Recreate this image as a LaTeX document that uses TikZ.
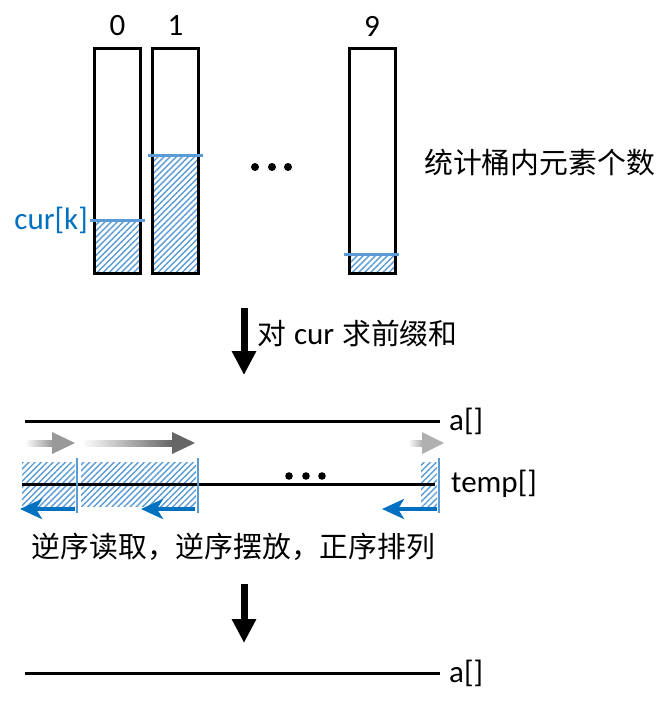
\documentclass[tikz,border=0pt]{standalone}
\usepackage{fontspec}
\setmainfont{Carlito}
\newfontfamily\cjk{Noto Sans CJK SC}[Scale=0.93]
\usetikzlibrary{arrows.meta,patterns.meta}
\definecolor{lblue}{RGB}{91,155,213}
\definecolor{dblue}{RGB}{0,112,192}
\begin{document}
\begin{tikzpicture}[x=1pt,y=-1pt,font=\fontsize{31}{35}\selectfont]
\tikzstyle{every node}=[inner sep=0pt]
\tikzstyle{hatch}=[pattern={Lines[angle=45,distance=4.3pt,line width=1.4pt]},pattern color=lblue]
\tikzstyle{bucket}=[draw,line width=3pt,minimum width=46pt,minimum height=225pt]
\tikzstyle{axis}=[line width=3pt]
\tikzstyle{big arrow}=[line width=7pt,-{Triangle[length=24pt,width=23pt]}]
\tikzstyle{back arrow}=[dblue,line width=4.5pt,-{Stealth[length=22pt,width=20pt,inset=6pt]}]
\useasboundingbox (0,0) rectangle (669,704);
% buckets 0, 1, 9
\foreach \n/\cx/\h in {0/117.5/220, 1/175.5/155, 9/372/254}{
\path (\cx,26) node (n\n) {\n};
\fill[hatch] (\cx-22,\h) rectangle (\cx+22,272);
\path (\cx,161) node [bucket] (b\n) {};
\draw [lblue,line width=3pt] (\cx-28,\h) -- (\cx+27,\h);
}
\foreach \x in {255,272,288} \fill (\x,167) circle (4);
\path (88,220) node [dblue,anchor=east] (cur) {cur[k]};
\path (424,163) node [anchor=west] (cnt) {\cjk 统计桶内元素个数};
% prefix sum
\coordinate (s1) at (244,308);
\coordinate (e1) at (244,375);
\draw [big arrow] (s1) -- (e1);
\path (257,333) node [anchor=west] (pre) {{\cjk 对}\hspace{8pt}cur\hspace{8pt}{\cjk 求前缀和}};
% a[] and temp[]
\path (449,421) node [anchor=west] (a1) {a[]};
\draw [axis] (25,421) -- (440,421);
\foreach \s/\b/\t/\g in {25/52/75/40, 82/172/195/60, 408/422/444/31}{
\shade [left color=white,right color=black!\g] (\s,440) rectangle (\b,446);
\fill [black!\g] (\b,432) -- (\t,443) -- (\b,454) -- cycle;
}
\fill [hatch] (22,462) rectangle (75,508);
\fill [hatch] (81,462) rectangle (196,506);
\fill [hatch] (421,462) rectangle (437,509);
\draw [axis] (22,484) -- (435,484);
\path (451,484) node [anchor=west] (tmp) {temp[]};
\foreach \x in {289,306,322} \fill (\x,476) circle (3.8);
\foreach \x in {77,198,439} \draw [lblue,line width=2.5pt] (\x,458) -- (\x,513);
\foreach \s/\t in {75/20, 195/141, 437/382} \draw [back arrow] (\s,509) -- (\t,509);
\path (233.5,547) node (rule) {\cjk 逆序读取，逆序摆放，正序排列};
% result
\coordinate (s2) at (244,584);
\coordinate (e2) at (244,643);
\draw [big arrow] (s2) -- (e2);
\draw [axis] (25,673) -- (440,673);
\path (449,673) node [anchor=west] (a2) {a[]};
\end{tikzpicture}
\end{document}
